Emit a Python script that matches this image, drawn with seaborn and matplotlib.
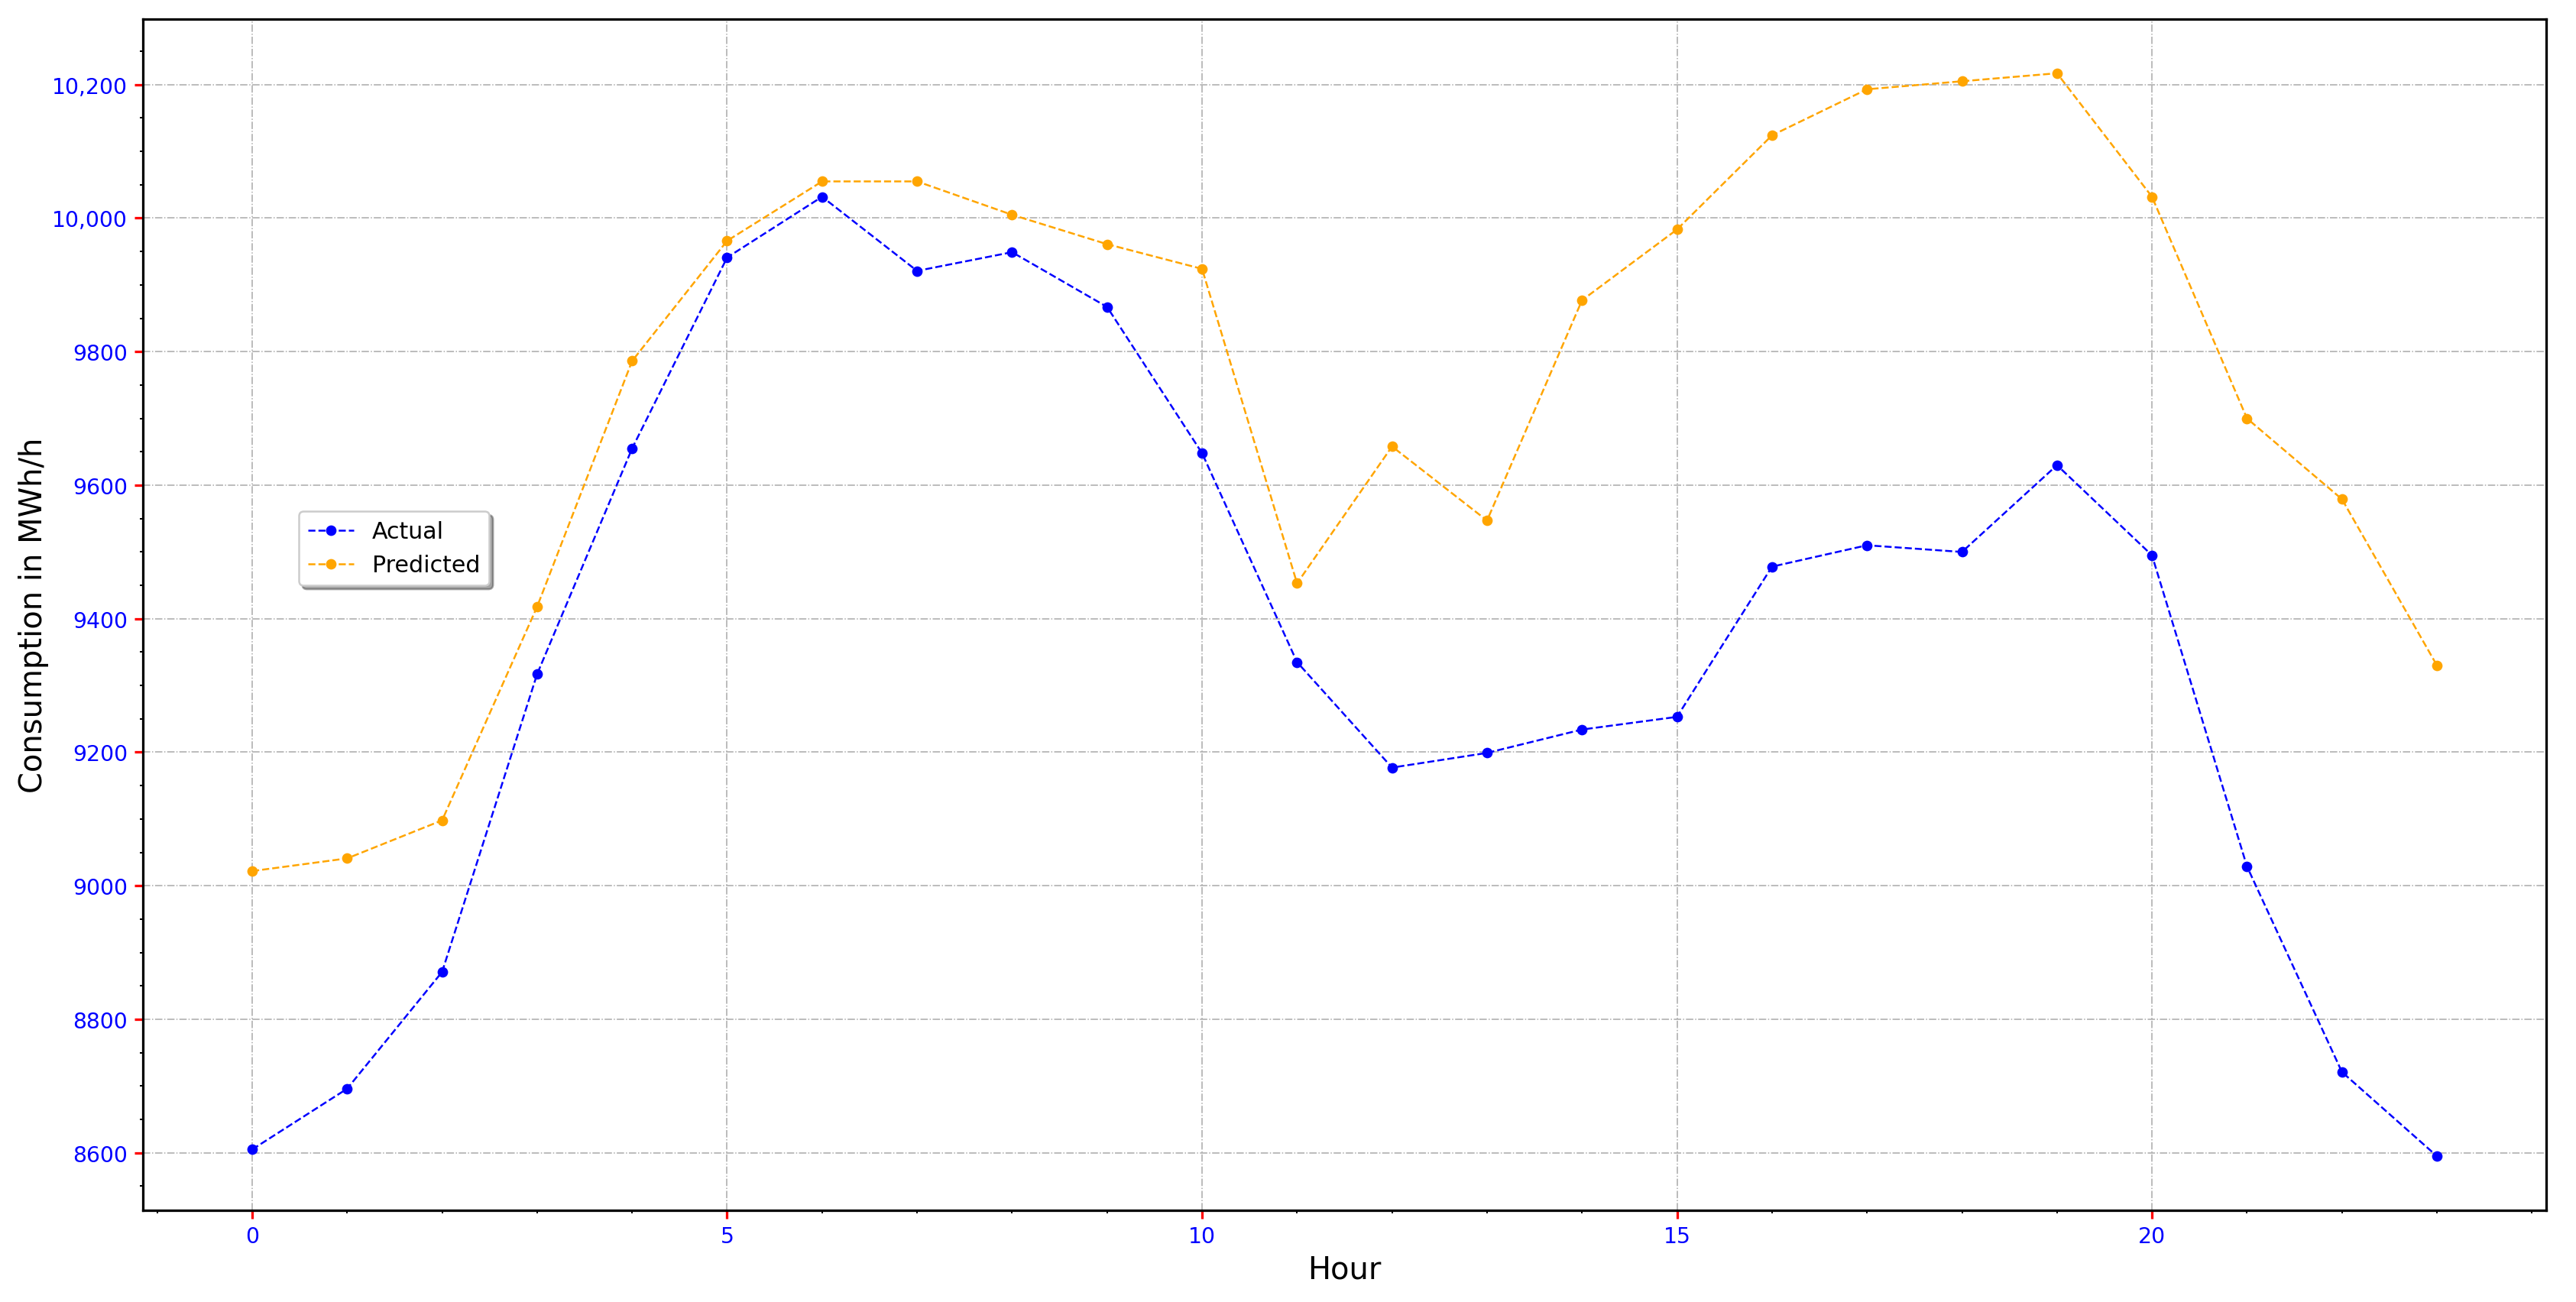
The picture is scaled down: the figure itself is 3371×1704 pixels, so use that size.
import matplotlib
matplotlib.use("Agg")
import matplotlib.pyplot as plt
import matplotlib.ticker as mticker
import seaborn as sns
import pandas as pd

hours = list(range(24))
actual = [8605, 8696, 8871, 9317, 9655, 9941, 10032, 9921, 9949, 9867, 9648, 9335,
          9177, 9199, 9234, 9253, 9478, 9510, 9500, 9630, 9495, 9029, 8721, 8595]
predicted = [9022, 9041, 9098, 9418, 9786, 9966, 10055, 10055, 10005, 9961, 9924, 9453,
             9658, 9547, 9877, 9983, 10124, 10193, 10205, 10217, 10032, 9700, 9579, 9330]

sns.set_style("white")
plt.rcParams['font.family'] = ['DejaVu Sans']
plt.rcParams['text.color'] = 'black'
plt.rcParams['axes.labelcolor'] = 'black'

DPI = 180
fig = plt.figure(figsize=(3371 / DPI, 1705 / DPI), dpi=DPI)
ax = fig.add_axes([187 / 3371, 1 - 1585 / 1705, (3332 - 187) / 3371, (1585 - 26) / 1705])

df_a = pd.DataFrame({"Hour": hours, "Value": actual})
df_p = pd.DataFrame({"Hour": hours, "Value": predicted})
sns.lineplot(data=df_a, x="Hour", y="Value", ax=ax, color="blue", linestyle="--",
             marker="o", markersize=5.5, markeredgewidth=0, linewidth=1, label="Actual")
sns.lineplot(data=df_p, x="Hour", y="Value", ax=ax, color="orange", linestyle="--",
             marker="o", markersize=5.5, markeredgewidth=0, linewidth=1, label="Predicted")

ax.set_xlabel("Hour", fontsize=16, color="black")
ax.set_ylabel("Consumption in MWh/h", fontsize=16, color="black", labelpad=1.5)

ax.xaxis.set_major_locator(mticker.MultipleLocator(5))
ax.xaxis.set_minor_locator(mticker.MultipleLocator(1))
ax.yaxis.set_major_locator(mticker.MultipleLocator(200))
ax.yaxis.set_minor_locator(mticker.MultipleLocator(50))
ax.yaxis.set_major_formatter(mticker.FuncFormatter(
    lambda v, p: f"{v:,.0f}" if v >= 10000 else f"{v:.0f}"))

ax.tick_params(axis="both", which="major", direction="out", length=4.5, width=1.3,
               color="red", labelcolor="blue", labelsize=11.3, left=True, bottom=True)
ax.tick_params(axis="both", which="minor", direction="out", length=1.5, width=0.8,
               color="black", left=True, bottom=True)

ax.grid(True, which="major", linestyle="-.", color="#a8a8a8", linewidth=0.6)
for s in ax.spines.values():
    s.set_color("black")
    s.set_linewidth(1.3)

leg = ax.legend(loc="lower left", bbox_to_anchor=(0.060, 0.515), fontsize=12,
                shadow=True, fancybox=True, frameon=True)
for t in leg.get_texts():
    t.set_color("black")

fig.savefig("out.png", dpi=DPI)
